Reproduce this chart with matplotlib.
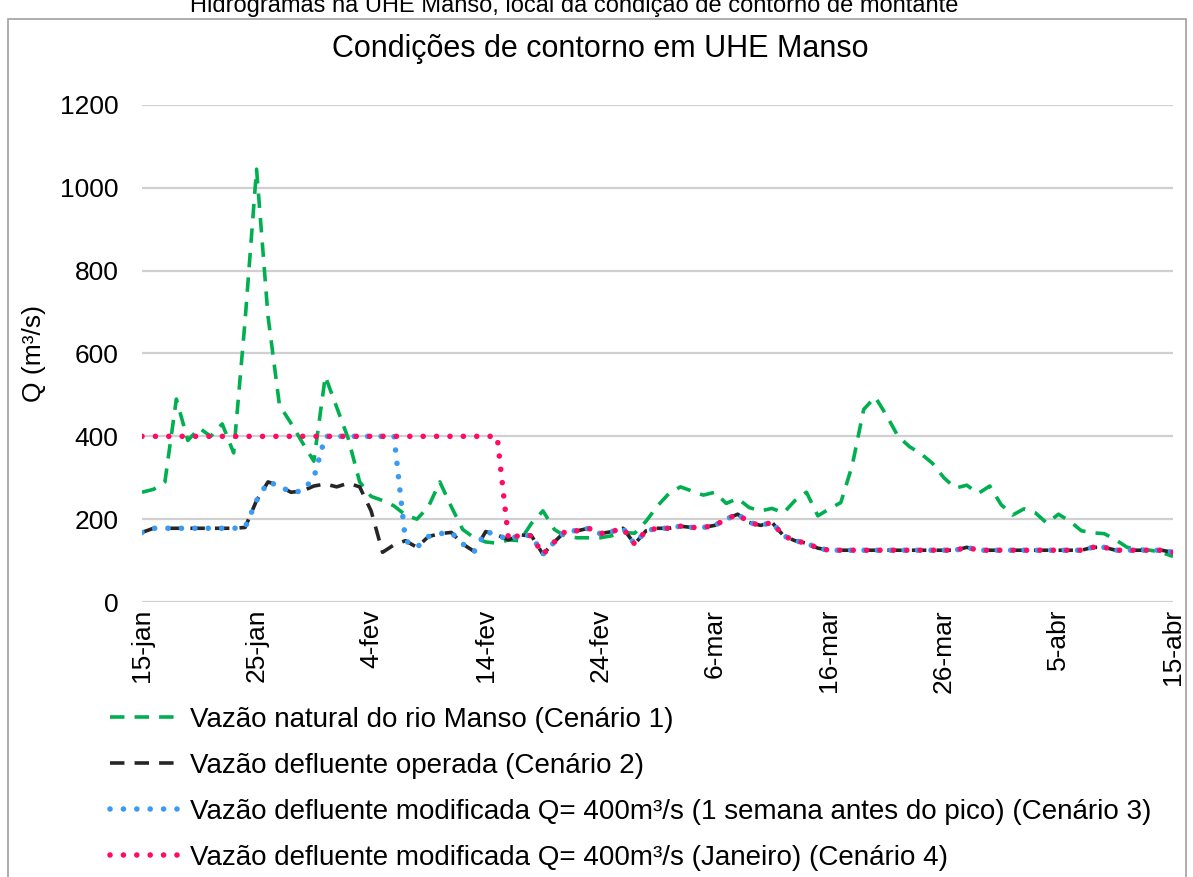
import numpy as np
import pandas as pd
import matplotlib
matplotlib.use('Agg')
import matplotlib.pyplot as plt
from matplotlib.patches import Rectangle

plt.rcParams['font.family'] = ['Liberation Sans', 'DejaVu Sans']

# daily values, 15-jan to 15-abr
dates = pd.date_range('2021-01-15', '2021-04-15', freq='D')

natural = [265, 272, 290, 490, 390, 420, 400, 430, 360, 680,
           1045, 690, 475, 432, 385, 340, 545, 470, 395, 290,
           255, 245, 232, 210, 200, 230, 290, 230, 175, 155,
           145, 142, 150, 148, 190, 220, 175, 158, 155, 155,
           155, 160, 168, 166, 195, 232, 262, 278, 268, 258,
           265, 238, 250, 228, 220, 226, 215, 245, 265, 208,
           225, 240, 330, 465, 495, 450, 400, 375, 358, 335,
           300, 275, 282, 262, 280, 235, 210, 225, 215, 190,
           212, 195, 172, 167, 165, 150, 132, 128, 125, 120,
           110]

operada = [168, 178, 178, 178, 178, 178, 178, 178, 178, 180,
           245, 290, 280, 265, 268, 280, 285, 278, 287, 278,
           220, 120, 138, 148, 132, 158, 165, 168, 140, 122,
           170, 162, 150, 162, 160, 115, 145, 172, 172, 178,
           165, 170, 178, 140, 172, 178, 178, 183, 180, 180,
           185, 200, 212, 192, 185, 192, 160, 148, 142, 130,
           125, 125, 125, 125, 125, 125, 125, 125, 125, 125,
           125, 125, 132, 125, 125, 125, 125, 125, 125, 125,
           125, 125, 125, 132, 132, 125, 125, 125, 125, 125,
           120]

# cenario 3: 400 m3/s one week before the peak
cen3 = list(operada)
cen3[15] = 300
for i in range(16, 23):
    cen3[i] = 400

# cenario 4: 400 m3/s in January
cen4 = list(operada)
for i in range(0, 32):
    cen4[i] = 400

tick_labels = ['15-jan', '25-jan', '4-fev', '14-fev', '24-fev',
               '6-mar', '16-mar', '26-mar', '5-abr', '15-abr']
y_ticks = [0, 200, 400, 600, 800, 1000, 1200]

labels = ['Vazão natural do rio Manso (Cenário 1)',
          'Vazão defluente operada (Cenário 2)',
          'Vazão defluente modificada Q= 400m³/s (1 semana antes do pico) (Cenário 3)',
          'Vazão defluente modificada Q= 400m³/s (Janeiro) (Cenário 4)']

fig = plt.figure(figsize=(11.93, 8.77), dpi=100)
ax = fig.add_axes([142/1193, 1-602/877, (1173-142)/1193, (602-105)/877])

ax.plot(dates, natural, color='#00B050', lw=2.6, ls=(0, (4, 2.8)), label=labels[0])
ax.plot(dates, operada, color='#262626', lw=2.6, ls=(0, (4, 2.8)), label=labels[1])
ax.plot(dates, cen3, color='#3A9BF4', lw=4.0, ls=(0, (0.01, 2.4)),
        dash_capstyle='round', label=labels[2])
ax.plot(dates, cen4, color='#FF0A64', lw=4.0, ls=(0, (0.01, 2.4)),
        dash_capstyle='round', label=labels[3])

ax.set_xlim(dates[0], dates[-1])
ax.set_ylim(0, 1200)
ax.set_xticks(dates[::10])
ax.set_xticklabels(tick_labels, rotation=90, fontsize=19)
ax.set_yticks(y_ticks)
ax.set_yticklabels([str(v) for v in y_ticks], fontsize=19)
ax.tick_params(length=0)
ax.tick_params(axis='y', pad=17)
ax.tick_params(axis='x', pad=5)
ax.grid(axis='y', color='#D0D0D0', lw=1.6)
ax.set_axisbelow(True)
for s in ax.spines.values():
    s.set_visible(False)
ax.set_ylabel('Q (m³/s)', fontsize=19, labelpad=10)

fig.text(0.503, 1-49/877, 'Condições de contorno em UHE Manso',
         ha='center', va='center', fontsize=22)
fig.text(0.481, 1-12/877,
         'Hidrogramas na UHE Manso, local da condição de contorno de montante',
         ha='center', va='baseline', fontsize=17)

fig.patches.append(Rectangle((8/1193, -0.01), (1186-8)/1193, 1.01-19/877,
                             transform=fig.transFigure, fill=False,
                             edgecolor='#A0A0A0', lw=1.2))

fig.legend(loc='upper left', bbox_to_anchor=(0.092, 0.194), frameon=False,
           fontsize=20, handlelength=2.65, handletextpad=0.25,
           labelspacing=0.72, borderpad=0, borderaxespad=0)

fig.savefig('out.png', dpi=100)
